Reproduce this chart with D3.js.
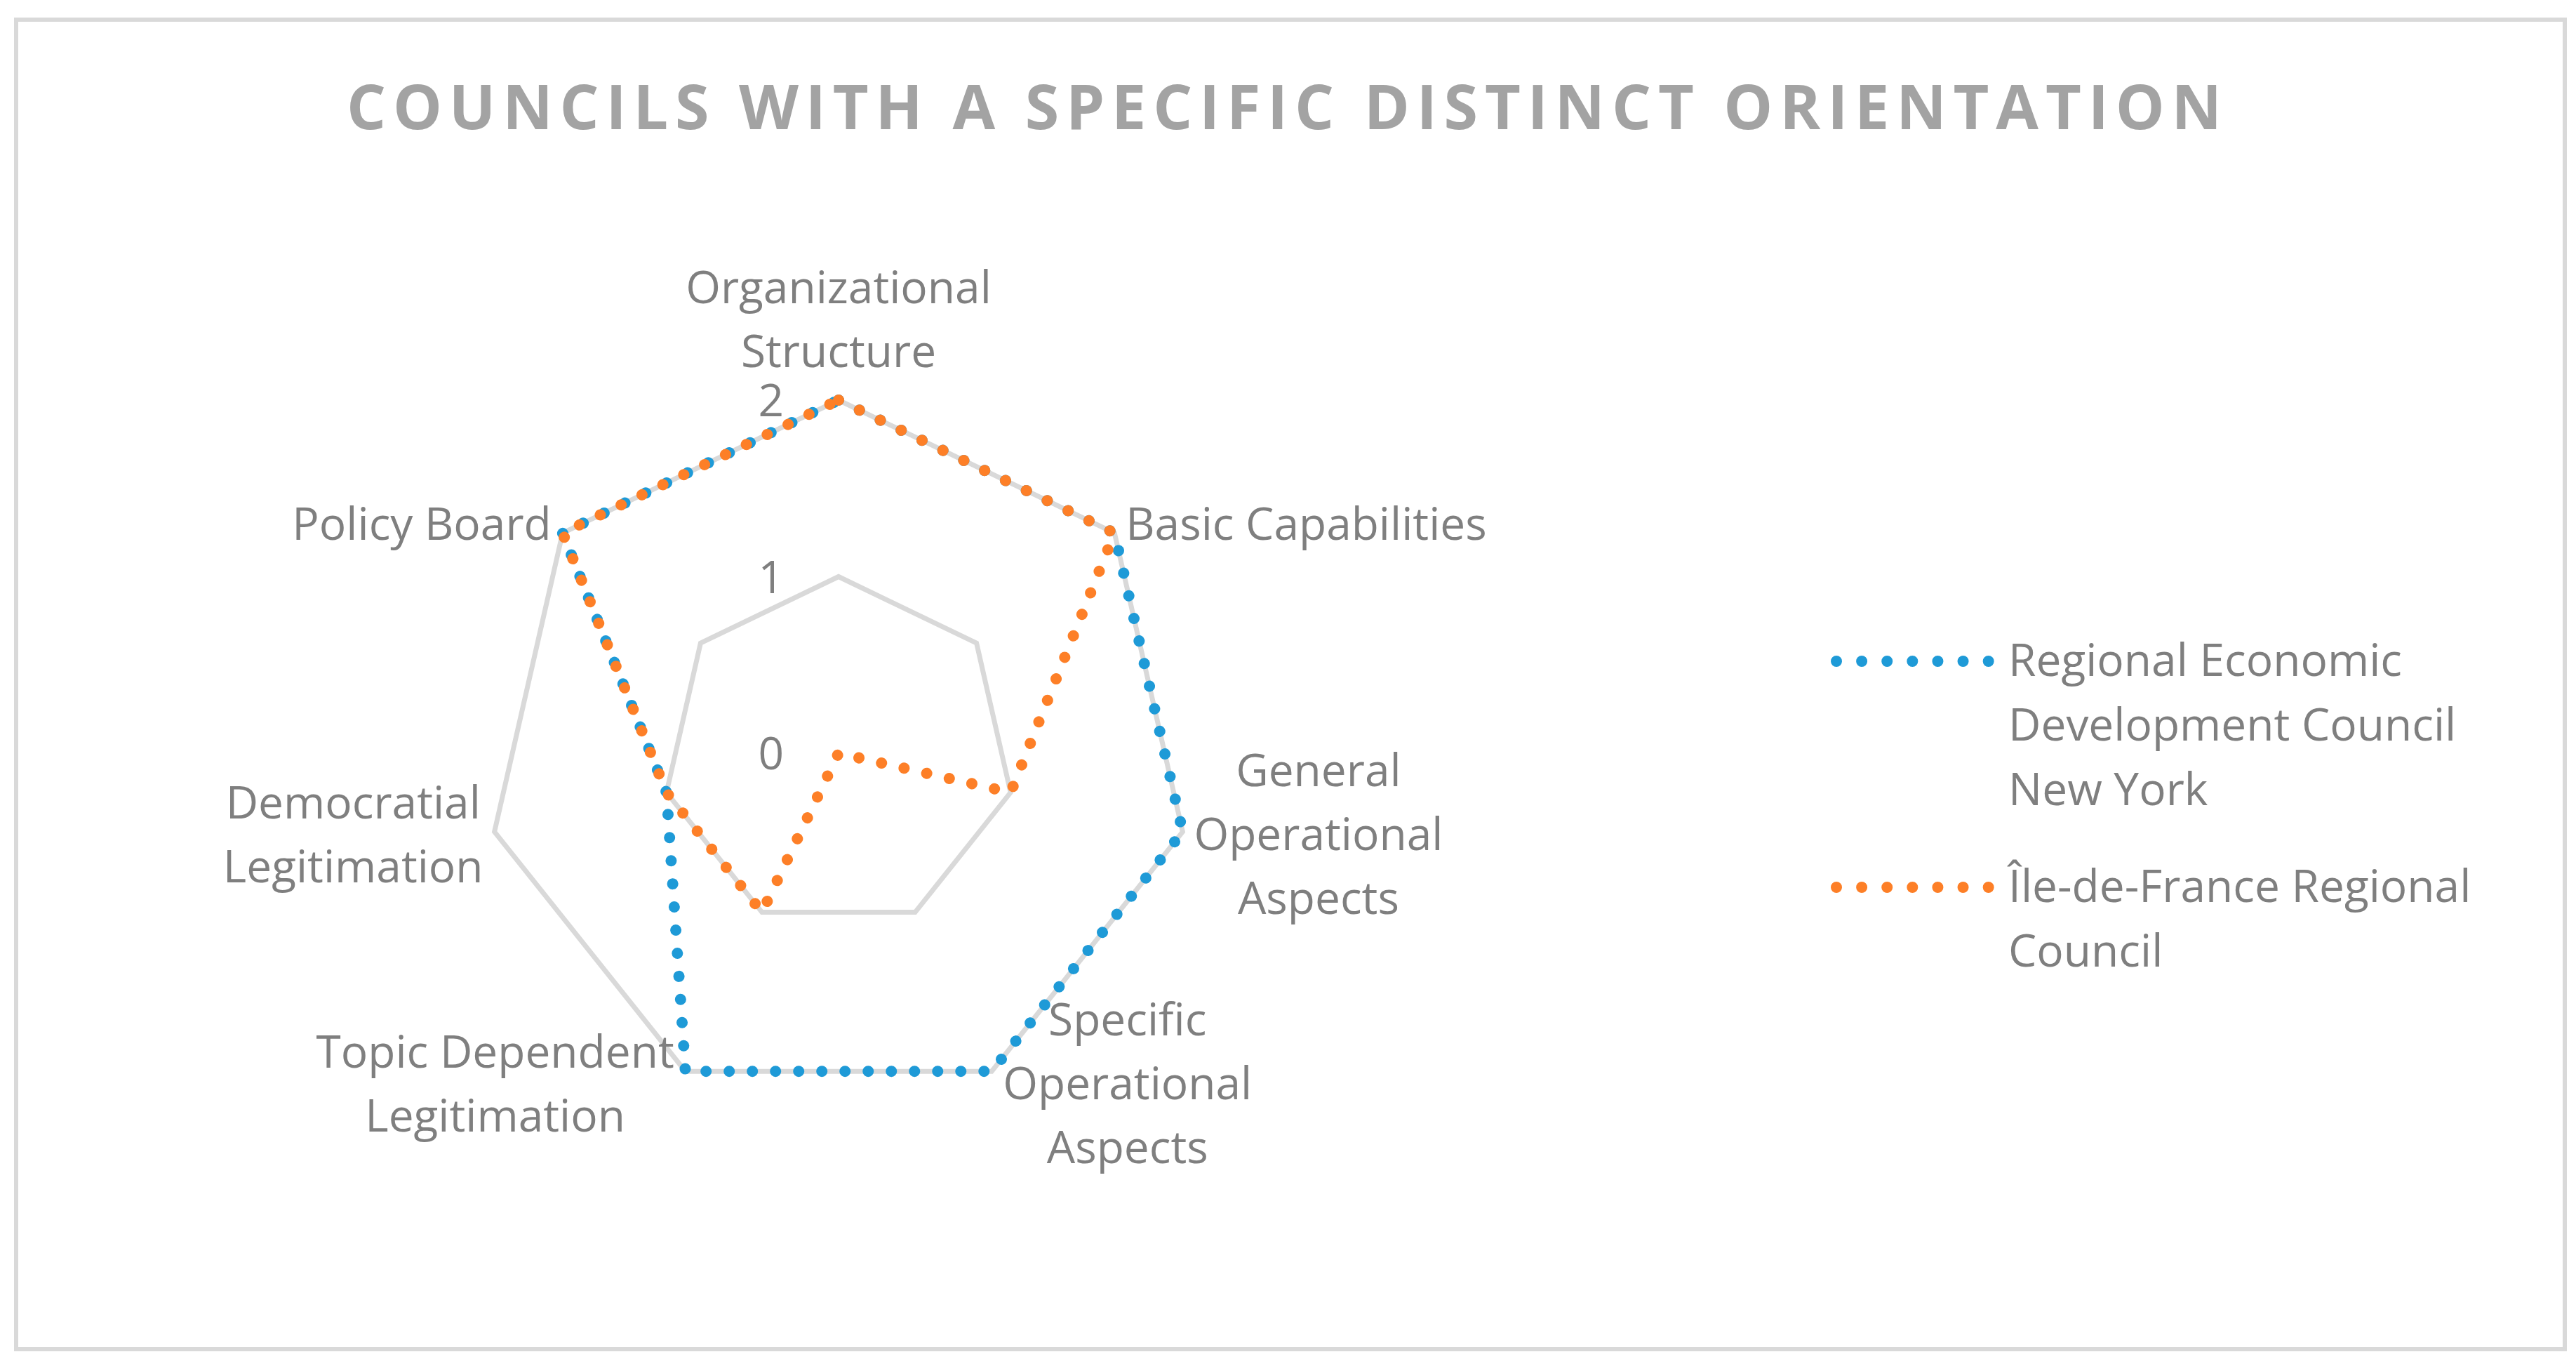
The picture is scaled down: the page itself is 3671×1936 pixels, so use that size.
<!DOCTYPE html>
<html>
<head>
<meta charset="utf-8">
<script src="https://cdn.jsdelivr.net/npm/d3@7"></script>
<style>
  body { margin: 0; background: #fff; }
  text { font-family: "Open Sans", sans-serif; fill: #7f7f7f; }
</style>
</head>
<body>
<div id="chart"></div>
<script>
// chart data
const title = "COUNCILS WITH A SPECIFIC DISTINCT ORIENTATION";
const categories = ["Organizational Structure", "Basic Capabilities", "General Operational Aspects",
  "Specific Operational Aspects", "Topic Dependent Legitimation", "Democratial Legitimation", "Policy Board"];
const seriesNames = ["Regional Economic Development Council New York", "Île-de-France Regional Council"];
const newYork = [2, 2, 2, 2, 2, 1, 2];
const ileDeFrance = [2, 2, 1, 0, 1, 1, 2];
const ticks = [0, 1, 2];

const colors = ["#1e9ad7", "#fd7f27"];
const series = [newYork, ileDeFrance];

const width = 3671, height = 1936;
const cx = 1195, cy = 1073, R = 503;
const fontSize = 64, lineH = 91;

const svg = d3.select("#chart").append("svg")
  .attr("width", width)
  .attr("height", height);

// chart border
svg.append("rect")
  .attr("x", 23).attr("y", 28)
  .attr("width", 3632).attr("height", 1894)
  .attr("fill", "none")
  .attr("stroke", "#d9d9d9")
  .attr("stroke-width", 6);

// title with letter spacing stretched to the reference width
const t = svg.append("text")
  .attr("x", 1835).attr("y", 184)
  .attr("text-anchor", "middle")
  .style("font-size", "88px")
  .style("font-weight", "bold")
  .style("fill", "#a3a3a3")
  .text(title);
const tw = t.node().getComputedTextLength();
t.style("letter-spacing", ((2672 - tw) / (title.length - 1)) + "px");

const r = d3.scaleLinear().domain([0, 2]).range([0, R]);
const n = categories.length;
const ang = i => i * 2 * Math.PI / n;

const g = svg.append("g").attr("transform", `translate(${cx},${cy})`);

const radar = d3.lineRadial()
  .angle((d, i) => ang(i))
  .radius(d => r(d))
  .curve(d3.curveLinearClosed);

// grid
g.selectAll(".grid")
  .data(ticks.filter(v => v > 0))
  .enter().append("path")
  .attr("class", "grid")
  .attr("d", v => radar(categories.map(() => v)))
  .attr("fill", "none")
  .attr("stroke", "#d9d9d9")
  .attr("stroke-width", 7)
  .attr("stroke-linejoin", "miter");

// tick labels
g.selectAll(".tick")
  .data(ticks)
  .enter().append("text")
  .attr("x", -78)
  .attr("y", v => -r(v))
  .attr("dy", "0.36em")
  .attr("text-anchor", "end")
  .style("font-size", fontSize + "px")
  .text(v => v);

// series
g.selectAll(".series")
  .data(series)
  .enter().append("path")
  .attr("class", "series")
  .attr("d", d => radar(d))
  .attr("fill", "none")
  .attr("stroke", (d, i) => colors[i])
  .attr("stroke-width", 16)
  .attr("stroke-linecap", "round")
  .attr("stroke-dasharray", "0.01 33");

// word wrapping by measured width
function wrap(str, maxW) {
  const tmp = svg.append("text").style("font-size", fontSize + "px");
  const words = str.split(" ");
  const lines = [];
  let cur = words[0];
  for (let k = 1; k < words.length; k++) {
    tmp.text(cur + " " + words[k]);
    if (tmp.node().getComputedTextLength() > maxW) {
      lines.push(cur);
      cur = words[k];
    } else {
      cur = cur + " " + words[k];
    }
  }
  lines.push(cur);
  tmp.remove();
  return lines;
}

// category labels
categories.forEach((c, i) => {
  const lines = wrap(c, 560);
  const a = ang(i);
  const s = Math.sin(a), co = Math.cos(a);
  const px = r(2) * s, py = -r(2) * co;
  const lab = g.append("text")
    .attr("text-anchor", "middle")
    .style("font-size", fontSize + "px");
  lines.forEach((l, k) => {
    lab.append("tspan").attr("x", 0).attr("y", k * lineH).text(l);
  });
  const bb = lab.node().getBBox();
  const blockH = (lines.length - 1) * lineH;
  const gap = 16;
  let x, yc;
  if (Math.abs(s) < 0.1) {
    x = px;
    yc = co > 0 ? py - 26 - lineH / 2 - blockH / 2 + 2 : py + 26 + lineH / 2 + blockH / 2;
  } else if (s > 0) {
    x = px + gap + bb.width / 2;
    yc = py - 20 * co;
  } else {
    x = px - gap - bb.width / 2;
    yc = py - 20 * co;
  }
  lab.attr("transform", `translate(${x},${yc - blockH / 2 + 22})`);
});

// legend
const legend = svg.append("g").attr("transform", "translate(2617,942)");
let ly = 0;
seriesNames.forEach((name, i) => {
  const lines = wrap(name, 700);
  legend.append("line")
    .attr("x1", 0).attr("x2", 217)
    .attr("y1", ly).attr("y2", ly)
    .attr("stroke", colors[i])
    .attr("stroke-width", 16)
    .attr("stroke-linecap", "round")
    .attr("stroke-dasharray", "0.01 36.1");
  const lt = legend.append("text").style("font-size", fontSize + "px");
  lines.forEach((l, k) => {
    lt.append("tspan").attr("x", 245).attr("y", ly + 21 + k * 92).text(l);
  });
  ly += 322;
});
</script>
</body>
</html>
